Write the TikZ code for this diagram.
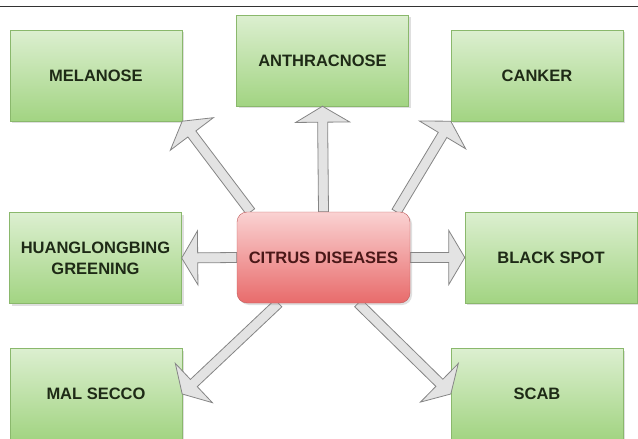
\documentclass[tikz,border=0pt]{standalone}
\usepackage{fontspec}
\setmainfont{Liberation Sans}
\usetikzlibrary{calc,shadows}

\definecolor{boxtop}{HTML}{DCEFD0}
\definecolor{boxbot}{HTML}{A2D482}
\definecolor{boxline}{HTML}{8AB86C}
\definecolor{boxtext}{HTML}{1E2A16}
\definecolor{maintop}{HTML}{FAD2D2}
\definecolor{mainbot}{HTML}{E86B6B}
\definecolor{mainline}{HTML}{C05A5A}
\definecolor{maintext}{HTML}{4A1818}
\definecolor{arrfill}{HTML}{E3E3E3}
\definecolor{arrline}{HTML}{858585}

\pgfdeclarelayer{front}
\pgfsetlayers{main,front}

\tikzset{
  disease/.style={draw=boxline, top color=boxtop, bottom color=boxbot, minimum width=172pt, minimum height=91pt,
    align=center, text=boxtext, font=\fontsize{16.5}{21}\selectfont\bfseries,
    drop shadow={opacity=0.25, shadow xshift=2pt, shadow yshift=-2pt}},
  mainbox/.style={disease, draw=mainline, top color=maintop, bottom color=mainbot, text=maintext, rounded corners=10pt, minimum width=173pt},
  blockarr/.style={draw=arrline, fill=arrfill, line width=0.8pt, line join=miter}
}

\newcommand{\shaftw}{5pt}
\newcommand{\headw}{27pt}
\newcommand{\headlen}{16pt}
\newcommand{\blockarrow}[2]{%
  \coordinate (hb) at ($(#2)!\headlen!(#1)$);
  \draw[blockarr] ($(#1)!\shaftw!90:(#2)$) -- ($(hb)!\shaftw!-90:(#1)$) -- ($(hb)!\headw!-90:(#1)$) -- (#2)
    -- ($(hb)!\headw!90:(#1)$) -- ($(hb)!\shaftw!90:(#1)$) -- ($(#1)!\shaftw!-90:(#2)$) -- cycle;
}

\begin{document}
\begin{tikzpicture}[x=1pt, y=-1pt]
    \useasboundingbox (0,0) rectangle (638,439);
    \draw[line width=1.3pt, black!80] (0,6.5)--(638,6.5);

    \node[disease] (melanose) at (96,75.5) {MELANOSE};
    \node[disease] (anthracnose) at (322.5,60.5) {ANTHRACNOSE};
    \node[disease] (canker) at (537,75.5) {CANKER};
    \node[disease] (huanglongbing) at (95.5,258) {HUANGLONGBING\\GREENING};
    \node[disease] (blackspot) at (551,257.5) {BLACK SPOT};
    \node[disease] (malsecco) at (96,394) {MAL SECCO};
    \node[disease] (scab) at (537,394) {SCAB};
    \begin{pgfonlayer}{front}
        \node[mainbox] (citrus) at (323.5,257.5) {CITRUS DISEASES};
    \end{pgfonlayer}

    \coordinate (nw) at ($(citrus.north west)!0.08!(citrus.north east)$);
    \coordinate (ne) at ($(citrus.north west)!0.92!(citrus.north east)$);
    \coordinate (sw) at ($(citrus.south west)!0.24!(citrus.south east)$);
    \coordinate (se) at ($(citrus.south west)!0.70!(citrus.south east)$);

    \blockarrow{nw}{melanose.south east}
    \blockarrow{citrus.north}{anthracnose.south}
    \blockarrow{ne}{canker.south west}
    \blockarrow{citrus.west}{huanglongbing.east}
    \blockarrow{citrus.east}{blackspot.west}
    \blockarrow{sw}{malsecco.east}
    \blockarrow{se}{scab.west}
\end{tikzpicture}
\end{document}
